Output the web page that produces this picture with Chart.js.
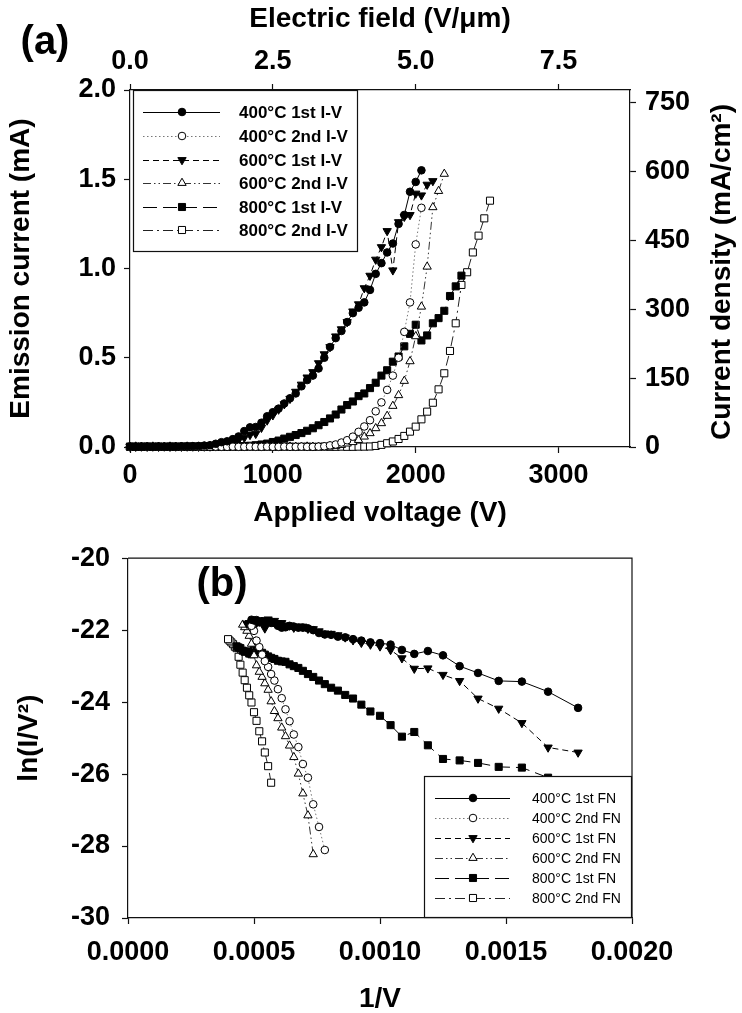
<!DOCTYPE html>
<html><head><meta charset="utf-8">
<script src="https://cdn.jsdelivr.net/npm/chart.js@4.4.0/dist/chart.umd.min.js"></script>
<style>
html,body{margin:0;padding:0;background:#fff;overflow:hidden;width:742px;height:1013px;}
canvas{position:absolute;left:0;}
#c1{top:0}
#c2{top:530px}
</style></head><body>
<canvas id="c1" width="742" height="530"></canvas>
<canvas id="c2" width="742" height="490"></canvas>
<script>
// ---------------- DATA ----------------
// Applied voltage grid (V), 40 V steps
const voltages = [0,40,80,120,160,200,240,280,320,360,400,440,480,520,560,600,640,680,720,760,
  800,840,880,920,960,1000,1040,1080,1120,1160,1200,1240,1280,1320,1360,1400,1440,1480,1520,1560,
  1600,1640,1680,1720,1760,1800,1840,1880,1920,1960,2000,2040,2080,2120,2160,2200,2240,2280,2320,2360,
  2400,2440,2480,2520];

// Emission current (mA) for each I-V sweep
const cur400a = [0.003,0.002,0.002,0.003,0.002,0.003,0.002,0.003,0.003,0.004,
  0.004,0.005,0.006,0.008,0.010,0.018,0.027,0.032,0.044,0.059,
  0.089,0.110,0.112,0.136,0.172,0.195,0.215,0.244,0.273,0.300,
  0.340,0.375,0.400,0.440,0.500,0.560,0.610,0.650,0.700,0.750,
  0.780,0.810,0.880,0.970,1.030,1.090,1.140,1.250,1.300,1.430,
  1.485,1.550];
const cur400b = [0.002,0.001,0.001,0.002,0.001,0.001,0.002,0.001,0.001,0.002,
  0.001,0.001,0.002,0.001,0.001,0.002,0.001,0.001,0.002,0.001,
  0.001,0.002,0.001,0.001,0.002,0.001,0.001,0.002,0.001,0.001,
  0.002,0.001,
  0.001,0.002,0.004,0.009,0.014,0.025,0.038,0.058,0.085,0.115,
  0.150,0.200,0.250,0.320,0.400,0.500,0.645,0.810,1.135,1.340];
const cur600a = [0.002,0.002,0.003,0.002,0.003,0.002,0.003,0.002,0.003,0.002,
  0.003,0.003,0.002,0.003,
  0.003,0.004,0.009,0.015,0.022,0.039,0.052,0.068,0.074,0.108,
  0.149,0.178,0.210,0.240,0.270,0.310,0.350,0.390,0.420,0.470,
  0.520,0.560,0.620,0.660,0.700,0.760,0.800,0.890,0.960,1.050,
  1.120,1.210,0.990,1.260,1.290,1.300,1.420,1.410,1.470,1.490];
const cur600b = [0.001,0.002,0.001,0.001,0.002,0.001,0.001,0.002,0.001,0.001,
  0.002,0.001,0.001,0.002,0.001,0.001,0.002,0.001,0.001,0.002,
  0.001,0.001,0.002,0.001,0.001,0.002,0.001,0.001,0.002,0.001,
  0.001,0.002,0.001,0.001,
  0.001,0.003,0.006,0.011,0.019,0.027,0.039,0.058,0.077,0.105,
  0.133,0.174,0.230,0.290,0.370,0.480,0.620,0.786,1.010,1.343,
  1.434,1.530];
const cur800a = [0.002,0.001,0.002,0.002,0.001,0.002,0.001,0.002,0.002,0.001,
  0.002,0.002,0.001,0.002,0.002,0.002,0.003,0.003,0.003,0.004,
  0.005,0.007,0.010,0.014,0.019,0.028,0.036,0.047,0.057,0.067,
  0.078,0.091,0.105,0.122,0.140,0.160,0.182,0.210,0.235,0.255,
  0.285,0.300,0.330,0.360,0.400,0.430,0.478,0.507,0.564,0.634,
  0.685,0.597,0.625,0.693,0.722,0.763,0.846,0.900,0.960];
const cur800b = [0.001,0.002,0.001,0.001,0.002,0.001,0.001,0.002,0.001,0.001,
  0.002,0.001,0.001,0.002,0.001,0.001,0.002,0.001,0.001,0.002,
  0.001,0.001,0.002,0.001,0.001,0.002,0.001,0.001,0.002,0.001,
  0.001,0.002,0.001,0.001,0.002,0.001,0.001,0.002,0.001,0.001,
  0.002,0.002,0.003,
  0.006,0.012,0.021,0.031,0.045,0.062,0.086,0.114,0.155,0.198,
  0.248,0.323,0.413,0.538,0.693,0.908,0.979,1.090,1.184,1.281,
  1.380];

// Fowler-Nordheim plots: x = 1/V, y = ln(I/V^2)
const invV400a = [0.001786,0.001667,0.001563,0.001471,0.001389,0.001316,0.00125,0.00119,0.001136,0.001087,
  0.001042,0.001,0.000962,0.000926,0.000893,0.000862,0.000833,0.000806,0.000781,0.000758,
  0.000735,0.000714,0.000694,0.000676,0.000658,0.000641,0.000625,0.00061,0.000595,0.000581,
  0.000568,0.000556,0.000543,0.000532,0.000521,0.00051,0.0005,0.00049];
const fn400a = [-24.16,-23.71,-23.43,-23.41,-23.19,-23.0,-22.70,-22.58,-22.66,-22.55,
  -22.40,-22.36,-22.34,-22.29,-22.25,-22.2,-22.18,-22.13,-22.12,-22.08,
  -22.0,-21.95,-21.93,-21.93,-21.9,-21.88,-21.92,-21.93,-21.88,-21.8,
  -21.8,-21.77,-21.8,-21.75,-21.78,-21.72,-21.73,-21.71];
const invV400b = [0.000781,0.000758,0.000735,0.000714,0.000694,0.000676,0.000658,0.000641,0.000625,0.00061,
  0.000595,0.000581,0.000568,0.000556,0.000543,0.000532,0.000521,0.00051,0.0005,0.00049];
const fn400b = [-28.11,-27.47,-26.84,-26.1,-25.72,-25.25,-24.9,-24.53,-24.2,-23.89,
  -23.64,-23.4,-23.22,-23.02,-22.86,-22.68,-22.47,-22.29,-22.02,-21.88];
const invV600a = [0.001786,0.001667,0.001563,0.001471,0.001389,0.001316,0.00125,0.00119,0.001136,0.001087,
  0.001042,0.001,0.000962,0.000926,0.000893,0.000862,0.000833,0.000806,0.000781,0.000758,
  0.000735,0.000714,0.000694,0.000676,0.000658,0.000641,0.000625,0.00061,0.000595,0.000581,
  0.000568,0.000556,0.000543,0.000532,0.000521,0.00051,0.0005,0.00049,0.000481,0.000472];
const fn600a = [-25.40,-25.26,-24.58,-24.18,-23.9,-23.41,-23.24,-23.06,-23.07,-22.78,
  -22.55,-22.45,-22.4,-22.35,-22.28,-22.2,-22.14,-22.1,-22.09,-22.03,
  -21.97,-21.96,-21.9,-21.9,-21.93,-21.87,-21.87,-21.8,-21.8,-21.74,
  -21.75,-21.7,-21.95,-21.73,-21.76,-21.8,-21.75,-21.8,-21.8,-21.82];
const invV600b = [0.000735,0.000714,0.000694,0.000676,0.000658,0.000641,0.000625,0.00061,0.000595,0.000581,
  0.000568,0.000556,0.000543,0.000532,0.000521,0.00051,0.0005,0.00049,0.000481,0.000472,
  0.000463,0.000455];
const fn600b = [-28.23,-27.15,-26.54,-25.99,-25.53,-25.21,-24.95,-24.71,-24.45,-24.25,
  -23.98,-23.66,-23.48,-23.3,-23.16,-22.98,-22.7,-22.38,-22.16,-22.02,
  -21.92,-21.85];
const invV800a = [0.001667,0.001563,0.001471,0.001389,0.001316,0.00125,0.00119,0.001136,0.001087,0.001042,
  0.001,0.000962,0.000926,0.000893,0.000862,0.000833,0.000806,0.000781,0.000758,0.000735,
  0.000714,0.000694,0.000676,0.000658,0.000641,0.000625,0.00061,0.000595,0.000581,0.000568,
  0.000556,0.000543,0.000532,0.000521,0.00051,0.0005,0.00049,0.000481,0.000472,0.000463,
  0.000455,0.000446,0.000439,0.000431];
const fn800a = [-26.1,-25.82,-25.8,-25.69,-25.62,-25.58,-25.2,-24.83,-24.96,-24.64,
  -24.38,-24.26,-24.07,-23.9,-23.8,-23.68,-23.6,-23.5,-23.4,-23.3,
  -23.22,-23.13,-23.05,-23.0,-22.95,-22.88,-22.87,-22.85,-22.8,-22.77,
  -22.73,-22.68,-22.63,-22.6,-22.52,-22.48,-22.67,-22.65,-22.59,-22.6,
  -22.57,-22.5,-22.48,-22.45];
const invV800b = [0.000568,0.000556,0.000543,0.000532,0.000521,0.00051,0.0005,0.00049,0.000481,0.000472,
  0.000463,0.000455,0.000446,0.000439,0.000431,0.000424,0.000417,0.00041,0.000403,0.000397];
const fn800b = [-26.24,-25.78,-25.4,-25.09,-24.81,-24.52,-24.28,-24.01,-23.81,-23.6,
  -23.39,-23.18,-22.96,-22.74,-22.5,-22.46,-22.39,-22.34,-22.29,-22.25];

const ivLabels = ['400°C 1st I-V','400°C 2nd I-V','600°C 1st I-V','600°C 2nd I-V','800°C 1st I-V','800°C 2nd I-V'];
const fnLabels = ['400°C 1st FN','400°C 2nd FN','600°C 1st FN','600°C 2nd FN','800°C 1st FN','800°C 2nd FN'];

// tick labels
const voltTicks = [0,1000,2000,3000];
const fieldTicks = [0,2.5,5.0,7.5];
const currentTicks = [0,0.5,1.0,1.5,2.0];
const densityTicks = [0,150,300,450,600,750];
const invVTicks = [0,0.0005,0.0010,0.0015,0.0020];
const lnTicks = [-30,-28,-26,-24,-22,-20];

// ---------------- STYLE ----------------
const FONT = '"Liberation Sans", Arial, Helvetica, sans-serif';
const styles = [
  {dash: [], ps: 'circle', bg: '#000', rot: 0, r: 3.8, line: '#000'},
  {dash: [1.5, 2.5], ps: 'circle', bg: '#fff', rot: 0, r: 3.8, line: '#777'},
  {dash: [6, 4], ps: 'triangle', bg: '#000', rot: 180, r: 4.8, line: '#000'},
  {dash: [8, 3, 1.5, 3, 1.5, 3], ps: 'triangle', bg: '#fff', rot: 0, r: 4.8, line: '#333'},
  {dash: [14, 6], ps: 'rect', bg: '#000', rot: 0, r: 5, line: '#000'},
  {dash: [10, 4, 2, 4], ps: 'rect', bg: '#fff', rot: 0, r: 5, line: '#222'}
];

function mkDataset(label, pts, st) {
  return {
    label: label, data: pts, showLine: true,
    borderColor: st.line, borderWidth: 1, borderDash: st.dash,
    pointStyle: st.ps, pointRotation: st.rot, pointRadius: st.r,
    pointBackgroundColor: st.bg, pointBorderColor: '#000', pointBorderWidth: 1,
    clip: false, tension: 0
  };
}
function ivPoints(cur) { return cur.map((c, i) => ({x: voltages[i], y: c})); }
function fnPoints(xs, ys) { return xs.map((x, i) => ({x: x, y: ys[i]})); }

const tickFont = {family: FONT, size: 27, weight: 'bold', lineHeight: 1.2};
const titleFont = {family: FONT, size: 28, weight: 'bold', lineHeight: 1.2};

function axis(o) {
  const base = {
    type: 'linear',
    border: {display: true, color: '#111', width: 1.2},
    grid: {drawOnChartArea: false, drawTicks: true, tickLength: 6, color: '#111', tickWidth: 1.2},
  };
  return Object.assign(base, o);
}
function setTicks(arr) { return s => { s.ticks = arr.map(v => ({value: v})); }; }

function drawLegend(chart, L) {
  const ctx = chart.ctx;
  ctx.save();
  ctx.fillStyle = '#fff';
  ctx.fillRect(L.box[0], L.box[1], L.box[2] - L.box[0], L.box[3] - L.box[1]);
  ctx.strokeStyle = '#111'; ctx.lineWidth = 1.2;
  ctx.strokeRect(L.box[0] + 0.5, L.box[1] + 0.5, L.box[2] - L.box[0] - 1, L.box[3] - L.box[1] - 1);
  chart.data.datasets.forEach((ds, i) => {
    const y = L.rows[i];
    ctx.setLineDash(ds.borderDash);
    ctx.strokeStyle = ds.borderColor; ctx.lineWidth = 1;
    ctx.beginPath(); ctx.moveTo(L.x0, y + 0.5); ctx.lineTo(L.x1, y + 0.5); ctx.stroke();
    ctx.setLineDash([]);
    ctx.fillStyle = ds.pointBackgroundColor; ctx.strokeStyle = '#000'; ctx.lineWidth = 1;
    Chart.helpers.drawPoint(ctx, {pointStyle: ds.pointStyle, rotation: ds.pointRotation, radius: ds.pointRadius, borderWidth: 1}, L.xm, y);
    ctx.fillStyle = '#000'; ctx.font = L.font; ctx.textAlign = 'left'; ctx.textBaseline = 'middle';
    ctx.fillText(ds.label, L.tx, y + 1);
  });
  ctx.restore();
}

// ---------------- CHART (a) ----------------
const ivSeries = [cur400a, cur400b, cur600a, cur600b, cur800a, cur800b];
const decorA = {
  id: 'decorA',
  afterDraw(chart) {
    const ctx = chart.ctx;
    ctx.save();
    ctx.fillStyle = '#000'; ctx.textAlign = 'center'; ctx.textBaseline = 'middle';
    ctx.font = 'bold 40px ' + FONT;
    ctx.fillText('(a)', 45, 43);
    ctx.translate(722, 272); ctx.rotate(-Math.PI / 2);
    ctx.font = 'bold 28px ' + FONT;
    ctx.fillText('Current density (mA/cm²)', 0, 0);
    ctx.restore();
    drawLegend(chart, {box: [133, 90, 358, 252], rows: [112, 136, 160, 183, 207, 230],
      x0: 143, x1: 220, xm: 182, tx: 239, font: 'bold 17px ' + FONT});
  }
};

new Chart(document.getElementById('c1'), {
  type: 'scatter',
  data: {datasets: ivSeries.map((c, i) => mkDataset(ivLabels[i], ivPoints(c), styles[i]))},
  options: {
    responsive: false, animation: false, devicePixelRatio: 1, events: [],
    layout: {padding: 0},
    plugins: {legend: {display: false}, tooltip: {enabled: false}},
    scales: {
      x: axis({position: 'bottom', min: 0, max: 3500,
        afterBuildTicks: setTicks(voltTicks),
        ticks: {font: tickFont, color: '#000', padding: 6, maxRotation: 0, autoSkip: false, callback: v => String(v)},
        title: {display: true, text: 'Applied voltage (V)', font: titleFont, color: '#000', padding: {top: 0, bottom: 0}},
        afterFit: s => { s.height = 83; }}),
      x2: axis({position: 'top', min: 0, max: 8.75,
        afterBuildTicks: setTicks(fieldTicks),
        ticks: {font: tickFont, color: '#000', padding: 6, maxRotation: 0, autoSkip: false, callback: v => v.toFixed(1)},
        title: {display: true, text: 'Electric field (V/μm)', font: titleFont, color: '#000', padding: {top: 2, bottom: 0}},
        afterFit: s => { s.height = 90; }}),
      y: axis({position: 'left', min: 0, max: 2,
        afterBuildTicks: setTicks(currentTicks),
        ticks: {font: tickFont, color: '#000', padding: 8, autoSkip: false, callback: v => v.toFixed(1)},
        title: {display: true, text: 'Emission current (mA)', font: titleFont, color: '#000', padding: {top: 4, bottom: 0}},
        afterFit: s => { s.width = 130; }}),
      y2: axis({position: 'right', min: 0, max: 778,
        afterBuildTicks: setTicks(densityTicks),
        ticks: {font: tickFont, color: '#000', padding: 9, autoSkip: false, callback: v => String(v)},
        afterFit: s => { s.width = 112; }})
    }
  },
  plugins: [decorA]
});

// ---------------- CHART (b) ----------------
const fnX = [invV400a, invV400b, invV600a, invV600b, invV800a, invV800b];
const fnY = [fn400a, fn400b, fn600a, fn600b, fn800a, fn800b];
const decorB = {
  id: 'decorB',
  afterDraw(chart) {
    const ctx = chart.ctx, a = chart.chartArea;
    ctx.save();
    ctx.strokeStyle = '#111'; ctx.lineWidth = 1.2;
    ctx.beginPath();
    ctx.moveTo(a.left, a.top); ctx.lineTo(a.right, a.top); ctx.lineTo(a.right, a.bottom);
    ctx.stroke();
    ctx.fillStyle = '#000'; ctx.textAlign = 'center'; ctx.textBaseline = 'middle';
    ctx.font = 'bold 40px ' + FONT;
    ctx.fillText('(b)', 222, 55);
    ctx.restore();
    drawLegend(chart, {box: [424, 246, 632, 388], rows: [268, 288, 308, 328, 348, 368],
      x0: 435, x1: 510, xm: 473, tx: 532, font: '14px ' + FONT});
  }
};

new Chart(document.getElementById('c2'), {
  type: 'scatter',
  data: {datasets: fnX.map((xs, i) => mkDataset(fnLabels[i], fnPoints(xs, fnY[i]), styles[i]))},
  options: {
    responsive: false, animation: false, devicePixelRatio: 1, events: [],
    layout: {padding: {top: 23, right: 110, left: 0, bottom: 0}},
    plugins: {legend: {display: false}, tooltip: {enabled: false}},
    scales: {
      x: axis({position: 'bottom', min: 0, max: 0.002,
        afterBuildTicks: setTicks(invVTicks),
        ticks: {font: tickFont, color: '#000', padding: 12, maxRotation: 0, autoSkip: false, callback: v => v.toFixed(4)},
        title: {display: true, text: '1/V', font: titleFont, color: '#000', padding: {top: 0, bottom: 4}},
        afterFit: s => { s.height = 102; }}),
      y: axis({position: 'left', min: -30, max: -20,
        afterBuildTicks: setTicks(lnTicks),
        ticks: {font: tickFont, color: '#000', padding: 12, autoSkip: false, callback: v => String(v)},
        title: {display: true, text: 'ln(I/V²)', font: titleFont, color: '#000', padding: {top: 12, bottom: 0}},
        afterFit: s => { s.width = 128; }})
    }
  },
  plugins: [decorB]
});
</script>
</body></html>
